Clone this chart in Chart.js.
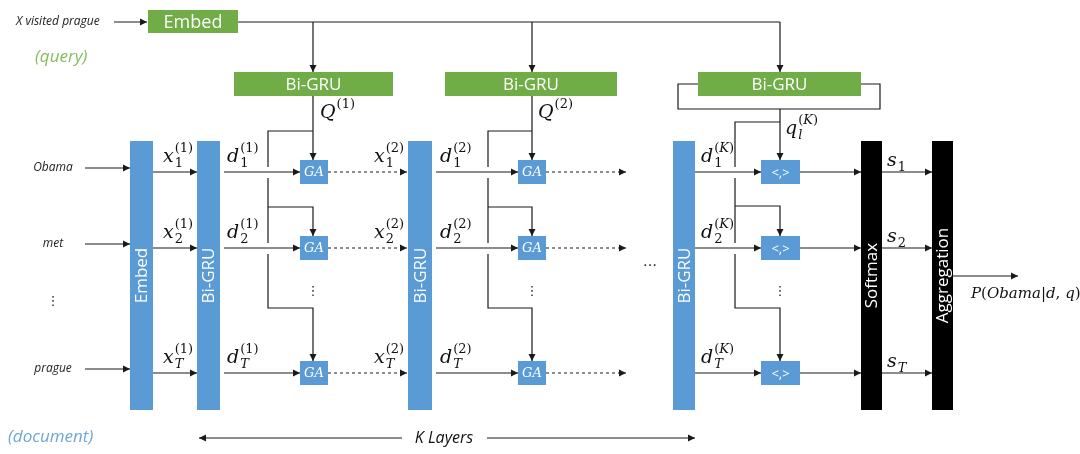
<!DOCTYPE html>
<html>
<head>
<meta charset="utf-8">
<script src="https://cdn.jsdelivr.net/npm/chart.js@4/dist/chart.umd.min.js"></script>
<style>
  html, body { margin: 0; padding: 0; background: #fff; }
  #diagram { display: block; }
</style>
</head>
<body>
<canvas id="diagram" width="1080" height="454"></canvas>
<script>
// diagram units are reference pixels, mapped through hidden linear scales

// --- text content ---
const queryText = 'X visited prague';
const tokens = ['Obama', 'met', 'prague'];
const rowSubs = ['1', '2', 'T'];
const layerSups = ['(1)', '(2)', '(K)'];
const colNames = ['Embed', 'Bi-GRU', 'Bi-GRU', 'Bi-GRU', 'Softmax', 'Aggregation'];
const gateNames = ['GA', 'GA', '<,>'];
const queryBoxNames = ['Embed', 'Bi-GRU', 'Bi-GRU', 'Bi-GRU'];

// --- layout ---
const rowY = [172, 248, 373];
const colLeft = [130, 197, 408, 673, 861, 932];
const colRight = [153, 220, 432, 695, 882, 953];
const colTop = 141, colBottom = 410;
const gateLeft = [300, 518, 761];
const gateRight = [328, 546, 800];
const dropX = [313, 532, 780];      // query drop into each gate column
const branchX = [268, 488, 735];    // vertical feeder line of each layer
const branchTop = [131, 131, 122];
const branchRowY = [207, 207, 206];
const branchLastY = 308;
const qBoxLeft = [148, 234, 445, 698];
const qBoxRight = [238, 393, 617, 861];
const qBoxTop = [10, 72, 72, 72];
const qBoxBottom = [33, 96, 96, 96];
const topLineY = 22;

const BLUE = '#5B9BD5', GREEN = '#70AD47', INK = '#1a1a1a';
const MATH = '"DejaVu Serif"';

// --- build line segments ---
const segs = [];
function seg(pts, opt) { segs.push(Object.assign({ pts: pts }, opt || {})); }

// query path
seg([[114, topLineY], [147, topLineY]], { arrow: true });
seg([[qBoxRight[0], topLineY], [dropX[2], topLineY]]);
for (let k = 0; k < 3; k++) seg([[dropX[k], topLineY], [dropX[k], qBoxTop[k + 1]]], { arrow: true });
// bracket around last query Bi-GRU
seg([[qBoxRight[3], 84], [880, 84], [880, 109], [678, 109], [678, 84], [qBoxLeft[3], 84]]);
seg([[dropX[0], qBoxBottom[1]], [dropX[0], rowY[0] - 12]], { arrow: true });
seg([[dropX[1], qBoxBottom[2]], [dropX[1], rowY[0] - 12]], { arrow: true });
seg([[dropX[2], 109], [dropX[2], rowY[0] - 12]], { arrow: true });

// feeder lines with small hops where they cross the rows
for (let k = 0; k < 3; k++) {
  const bx = branchX[k];
  seg([[dropX[k], branchTop[k]], [bx, branchTop[k]], [bx, rowY[0] - 5]]);
  seg([[bx, rowY[0] + 6], [bx, rowY[1] - 5]]);
  seg([[bx, rowY[1] + 6], [bx, branchLastY], [dropX[k], branchLastY], [dropX[k], rowY[2] - 12]], { arrow: true });
  seg([[bx, branchRowY[k]], [dropX[k], branchRowY[k]], [dropX[k], rowY[1] - 12]], { arrow: true });
}

// rows
rowY.forEach((y, r) => {
  seg([[85, y - 4], [colLeft[0], y - 4]], { arrow: true });
  seg([[colRight[0], y], [colLeft[1], y]], { arrow: true });
  seg([[colRight[1] + 4, y], [gateLeft[0], y]], { arrow: true });
  seg([[gateRight[0], y], [colLeft[2] - 1, y]], { arrow: true, dash: true });
  seg([[colRight[2] + 4, y], [gateLeft[1], y]], { arrow: true });
  seg([[gateRight[1], y], [626, y]], { arrow: true, dash: true });
  seg([[colRight[3], y], [gateLeft[2], y]], { arrow: true });
  seg([[gateRight[2], y], [colLeft[4], y]], { arrow: true });
  seg([[colRight[4], y], [colLeft[5], y]], { arrow: true });
});
seg([[colRight[5], 276], [1018, 276]], { arrow: true });

// K layers span
seg([[402, 438], [199, 438]], { arrow: true });
seg([[487, 438], [695, 438]], { arrow: true });

const datasets = segs.map(s => ({
  type: 'line',
  data: s.pts.map(p => ({ x: p[0], y: p[1] })),
  showLine: true,
  fill: false,
  tension: 0,
  pointRadius: 0,
  borderColor: INK,
  borderWidth: 1.2,
  borderDash: s.dash ? [3, 3] : [],
  arrowHead: !!s.arrow
}));

function mathRun(ctx, str, x, y, size) {
  for (const ch of str) {
    const it = /[A-Za-z]/.test(ch);
    ctx.font = (it ? 'italic ' : '') + size + 'px ' + MATH;
    ctx.fillText(ch, x, y);
    x += ctx.measureText(ch).width;
  }
  return x;
}
function mathLabel(ctx, main, sub, sup, x, y) {
  ctx.fillStyle = '#111';
  ctx.textAlign = 'left';
  ctx.textBaseline = 'alphabetic';
  const x1 = mathRun(ctx, main, x, y, 19) + 1;
  if (sub) mathRun(ctx, sub, x1, y + 5, 13);
  if (sup) mathRun(ctx, sup, x1, y - 10, 13);
}

const diagramPlugin = {
  id: 'diagram',
  afterDatasetsDraw(chart) {
    const ctx = chart.ctx, sx = chart.scales.x, sy = chart.scales.y;
    const X = v => sx.getPixelForValue(v), Y = v => sy.getPixelForValue(v);
    ctx.save();

    // arrowheads
    chart.data.datasets.forEach(ds => {
      if (!ds.arrowHead) return;
      const n = ds.data.length, a = ds.data[n - 2], b = ds.data[n - 1];
      const ang = Math.atan2(Y(b.y) - Y(a.y), X(b.x) - X(a.x));
      ctx.save();
      ctx.translate(X(b.x), Y(b.y));
      ctx.rotate(ang);
      ctx.fillStyle = INK;
      ctx.beginPath();
      ctx.moveTo(0, 0); ctx.lineTo(-7, -3.5); ctx.lineTo(-7, 3.5);
      ctx.closePath(); ctx.fill();
      ctx.restore();
    });

    // query boxes (green)
    qBoxLeft.forEach((l, i) => {
      ctx.fillStyle = GREEN;
      ctx.fillRect(X(l), Y(qBoxTop[i]), X(qBoxRight[i]) - X(l), Y(qBoxBottom[i]) - Y(qBoxTop[i]));
      ctx.fillStyle = '#fff';
      ctx.font = (i === 0 ? 18 : 17) + 'px "Open Sans"';
      ctx.textAlign = 'center'; ctx.textBaseline = 'middle';
      ctx.fillText(queryBoxNames[i], X((l + qBoxRight[i]) / 2), Y((qBoxTop[i] + qBoxBottom[i]) / 2) + 1);
    });

    // document columns
    colLeft.forEach((l, i) => {
      ctx.fillStyle = i >= 4 ? '#000' : BLUE;
      ctx.fillRect(X(l), Y(colTop), X(colRight[i]) - X(l), Y(colBottom) - Y(colTop));
      ctx.save();
      ctx.translate(X((l + colRight[i]) / 2) + 1, Y((colTop + colBottom) / 2));
      ctx.rotate(-Math.PI / 2);
      ctx.fillStyle = '#fff';
      ctx.font = '17px "Open Sans"';
      ctx.textAlign = 'center'; ctx.textBaseline = 'middle';
      ctx.fillText(colNames[i], 0, 0);
      ctx.restore();
    });

    // gates
    gateLeft.forEach((l, k) => {
      rowY.forEach(y => {
        ctx.fillStyle = BLUE;
        ctx.fillRect(X(l), Y(y - 12), X(gateRight[k]) - X(l), Y(y + 12) - Y(y - 12));
        ctx.fillStyle = '#fff';
        ctx.textAlign = 'center'; ctx.textBaseline = 'middle';
        ctx.font = k < 2 ? 'italic 13px ' + MATH : '13px "Open Sans"';
        ctx.fillText(gateNames[k], X((l + gateRight[k]) / 2), Y(y) + 1);
      });
      ctx.fillStyle = '#222';
      ctx.font = '13px "DejaVu Sans"';
      ctx.fillText('\u22EE', X(dropX[k]), Y(292));
    });

    // plain texts
    ctx.fillStyle = '#222';
    ctx.textBaseline = 'middle';
    ctx.textAlign = 'left';
    ctx.font = 'italic 12px "Open Sans"';
    ctx.fillText(queryText, X(16), Y(22));
    ctx.textAlign = 'center';
    tokens.forEach((t, r) => ctx.fillText(t, X(53), Y(rowY[r] - 4)));
    ctx.font = '13px "DejaVu Sans"';
    ctx.fillText('\u22EE', X(53), Y(302));
    ctx.font = '14px "DejaVu Sans"';
    ctx.fillText('\u2026', X(650), Y(262));

    ctx.font = 'italic 17px "Open Sans"';
    ctx.textAlign = 'left';
    ctx.fillStyle = '#84BC5E';
    ctx.fillText('(query)', X(35), Y(57));
    ctx.fillStyle = '#6EA6DA';
    ctx.fillText('(document)', X(8), Y(437));
    ctx.fillStyle = '#111';
    ctx.font = 'italic 16px "Open Sans"';
    ctx.textAlign = 'center';
    ctx.fillText('K Layers', X(444), Y(438));

    // math labels
    rowY.forEach((y, r) => {
      mathLabel(ctx, 'x', rowSubs[r], layerSups[0], X(163), Y(y - 10));
      mathLabel(ctx, 'd', rowSubs[r], layerSups[0], X(227), Y(y - 10));
      mathLabel(ctx, 'x', rowSubs[r], layerSups[1], X(374), Y(y - 10));
      mathLabel(ctx, 'd', rowSubs[r], layerSups[1], X(440), Y(y - 10));
      mathLabel(ctx, 'd', rowSubs[r], layerSups[2], X(701), Y(y - 10));
      mathLabel(ctx, 's', rowSubs[r], null, X(887), Y(y - 6));
    });
    mathLabel(ctx, 'Q', null, layerSups[0], X(320), Y(118));
    mathLabel(ctx, 'Q', null, layerSups[1], X(538), Y(118));
    mathLabel(ctx, 'q', 'l', layerSups[2], X(785), Y(134));
    ctx.fillStyle = '#111';
    mathRun(ctx, 'P(Obama|d, q)', X(971), Y(298), 15);

    ctx.restore();
  }
};

new Chart(document.getElementById('diagram'), {
  type: 'scatter',
  data: { datasets: datasets },
  options: {
    responsive: false,
    animation: false,
    layout: { padding: 0 },
    plugins: { legend: { display: false }, tooltip: { enabled: false } },
    scales: {
      x: { type: 'linear', min: 0, max: 1080, display: false },
      y: { type: 'linear', min: 0, max: 454, reverse: true, display: false }
    }
  },
  plugins: [diagramPlugin]
});
</script>
</body>
</html>
